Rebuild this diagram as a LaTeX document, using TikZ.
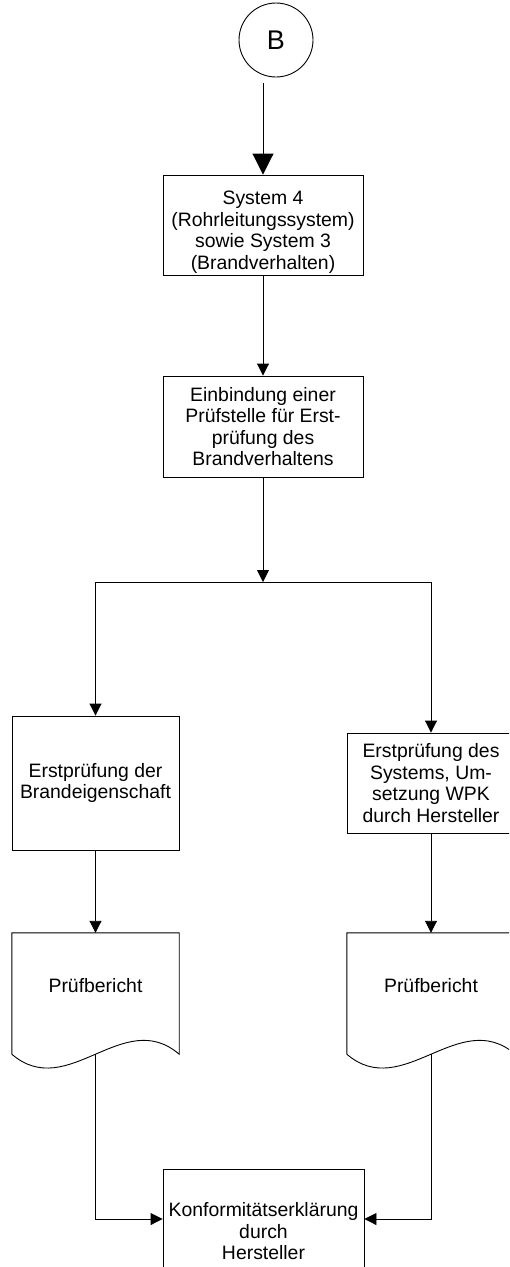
\documentclass[tikz,border=0pt]{standalone}
\usepackage{fontspec}
\setmainfont{Liberation Sans}
\usepackage{tikz}
\usetikzlibrary{arrows.meta, calc}

\begin{document}
\begin{tikzpicture}[
  x=1pt, y=-1pt,
  box/.style={rectangle, draw, line width=0.9pt, align=center, inner sep=0pt,
              font=\fontsize{19.4}{21.5}\selectfont},
  docbox/.style={rectangle, inner sep=0pt, align=center, text depth=17pt,
                 font=\fontsize{19.4}{21.5}\selectfont},
  arrow/.style={-{Triangle[length=12pt, width=12pt]}, line width=0.9pt},
  bigarrow/.style={-{Triangle[length=21pt, width=21pt]}, line width=0.9pt}
]
\clip (0,0) rectangle (509,1267);
\node[circle, draw, line width=0.9pt, minimum size=74pt, inner sep=0pt,
      font=\fontsize{27}{27}\selectfont] (b) at (276,40) {B};
\node[box, minimum width=200pt, minimum height=100pt, text height=93pt] (sys) at (263,225)
  {System 4\\(Rohrleitungssystem)\\sowie System 3\\(Brandverhalten)};
\node[box, minimum width=200pt, minimum height=101pt] (einb)  at (263,426.5)
  {Einbindung einer\\Prüfstelle für Erst-\\prüfung des\\Brandverhaltens};
\coordinate (split) at (263,582);
\node[box, minimum width=167pt, minimum height=134pt] (brand) at (95.5,783)
  {Erstprüfung der\\Brandeigenschaft};
\node[box, minimum width=168pt, minimum height=100pt] (wpk)   at (431,783)
  {Erstprüfung des\\Systems, Um-\\setzung WPK\\durch Hersteller};
\node[docbox, minimum width=167pt, minimum height=121pt] (pb1) at (95.5,993.5) {Prüfbericht};
\node[docbox, minimum width=168pt, minimum height=121pt] (pb2) at (431,993.5) {Prüfbericht};
\node[box, minimum width=201pt, minimum height=125pt] (konf)  at (263.5,1231.5)
  {Konformitätserklärung\\durch\\Hersteller};
\coordinate (merge) at (0,1219);

% document outlines
\foreach \d in {pb1, pb2}
  \draw[line width=0.9pt] (\d.south west) -- (\d.north west) -- (\d.north east) -- (\d.south east)
    .. controls ++(-56,-48) and ($(\d.south west)+(56,48)$) .. (\d.south west);

\draw[bigarrow, shorten <=6pt] (b.south -| sys.north) -- (sys.north);
\draw[arrow] (sys) -- (einb);
\draw[arrow] (einb) -- (split);
\draw[arrow] (split) -| (brand.north);
\draw[arrow] (split) -| (wpk.north);
\draw[arrow] (brand) -- (pb1);
\draw[arrow] (wpk) -- (pb2);
\draw[arrow] (pb1.south) |- (konf.west |- merge);
\draw[arrow] (pb2.south) |- (konf.east |- merge);
\end{tikzpicture}
\end{document}
